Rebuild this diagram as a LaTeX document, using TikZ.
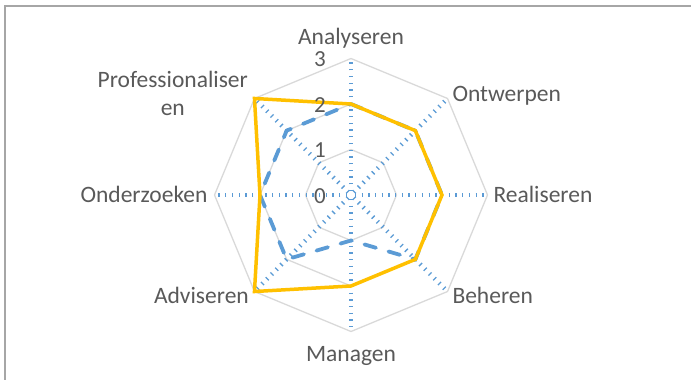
\documentclass[tikz,border=0pt]{standalone}
\usepackage{fontspec}
\setmainfont{Carlito}
\usepackage{xcolor}
\usepackage{tikz}
\usetikzlibrary{positioning}
\definecolor{gridgray}{HTML}{D9D9D9}
\definecolor{spokeblue}{HTML}{5B9BD5}
\definecolor{seriesgold}{HTML}{FFC000}
\definecolor{labelgray}{HTML}{595959}
\definecolor{framegray}{HTML}{A6A6A6}
\newcommand{\unitr}{45.5}

\begin{document}
\begin{tikzpicture}[x=1pt,y=1pt,
	ring/.style={draw=gridgray,line width=1.3pt},
	spoke/.style={draw=spokeblue,line width=4.5pt,dash pattern=on 1.3pt off 5.4pt,dash phase=2.8pt},
	planline/.style={draw=spokeblue,line width=3.8pt,line cap=round,dash pattern=on 12pt off 13pt},
	scoreline/.style={draw=seriesgold,line width=3.5pt},
	lbl/.style={text=labelgray,font=\fontsize{23.5}{28.4}\selectfont,inner sep=0pt},
	val/.style={text=labelgray,font=\fontsize{23}{27}\selectfont,inner sep=0pt,anchor=base east}]
\useasboundingbox (-351,-185) rectangle (340,195);
% frame
\draw[framegray,line width=2pt] (-345.7,-185) -- (-345.7,189.2) -- (340,189.2);

\coordinate (o) at (0,0);
% grid rings
\foreach \r in {1,2,3}
	\draw[ring] (90:\r*\unitr) \foreach \a in {45,0,...,-225} { -- (\a:\r*\unitr) } -- cycle;
% spokes
\foreach \a [count=\i] in {90,45,...,-225} {
	\coordinate (ax\i) at (\a:3*\unitr);
	\draw[spoke] (o) -- (ax\i);
}

% series
\foreach \a/\v [count=\i] in {90/2,45/2,0/2,-45/2,-90/1,-135/2,180/2,135/2}
	\coordinate (p\i) at (\a:\v*\unitr);
\foreach \a/\v [count=\i] in {90/2,45/2,0/2,-45/2,-90/2,-135/3,180/2,135/3}
	\coordinate (g\i) at (\a:\v*\unitr);
\draw[planline] (p1) -- (p2) -- (p3) -- (p4) -- (p5) -- (p6) -- (p7) -- (p8) -- cycle;
\draw[scoreline] (g1) -- (g2) -- (g3) -- (g4) -- (g5) -- (g6) -- (g7) -- (g8) -- cycle;

% axis values
\foreach \k in {0,...,3}
	\node[val] (v\k) at (-25,\k*\unitr-8.3) {\k};

% category labels
\node[lbl,anchor=base] (analyseren) at (0,150) {Analyseren};
\node[lbl,anchor=base west] (ontwerpen) at (101.3,93.3) {Ontwerpen};
\node[lbl,anchor=base west] (realiseren) at (142.3,-7.5) {Realiseren};
\node[lbl,anchor=base west] (beheren) at (101.3,-108.3) {Beheren};
\node[lbl,anchor=base] (managen) at (0,-166.7) {Managen};
\node[lbl,anchor=base east] (adviseren) at (-102,-108.3) {Adviseren};
\node[lbl,anchor=base east] (onderzoeken) at (-143.3,-7.5) {Onderzoeken};
\node[lbl,anchor=base,align=center] (professionaliseren) at (-178.2,79.3) {Professionaliser\\en};
\end{tikzpicture}
\end{document}
